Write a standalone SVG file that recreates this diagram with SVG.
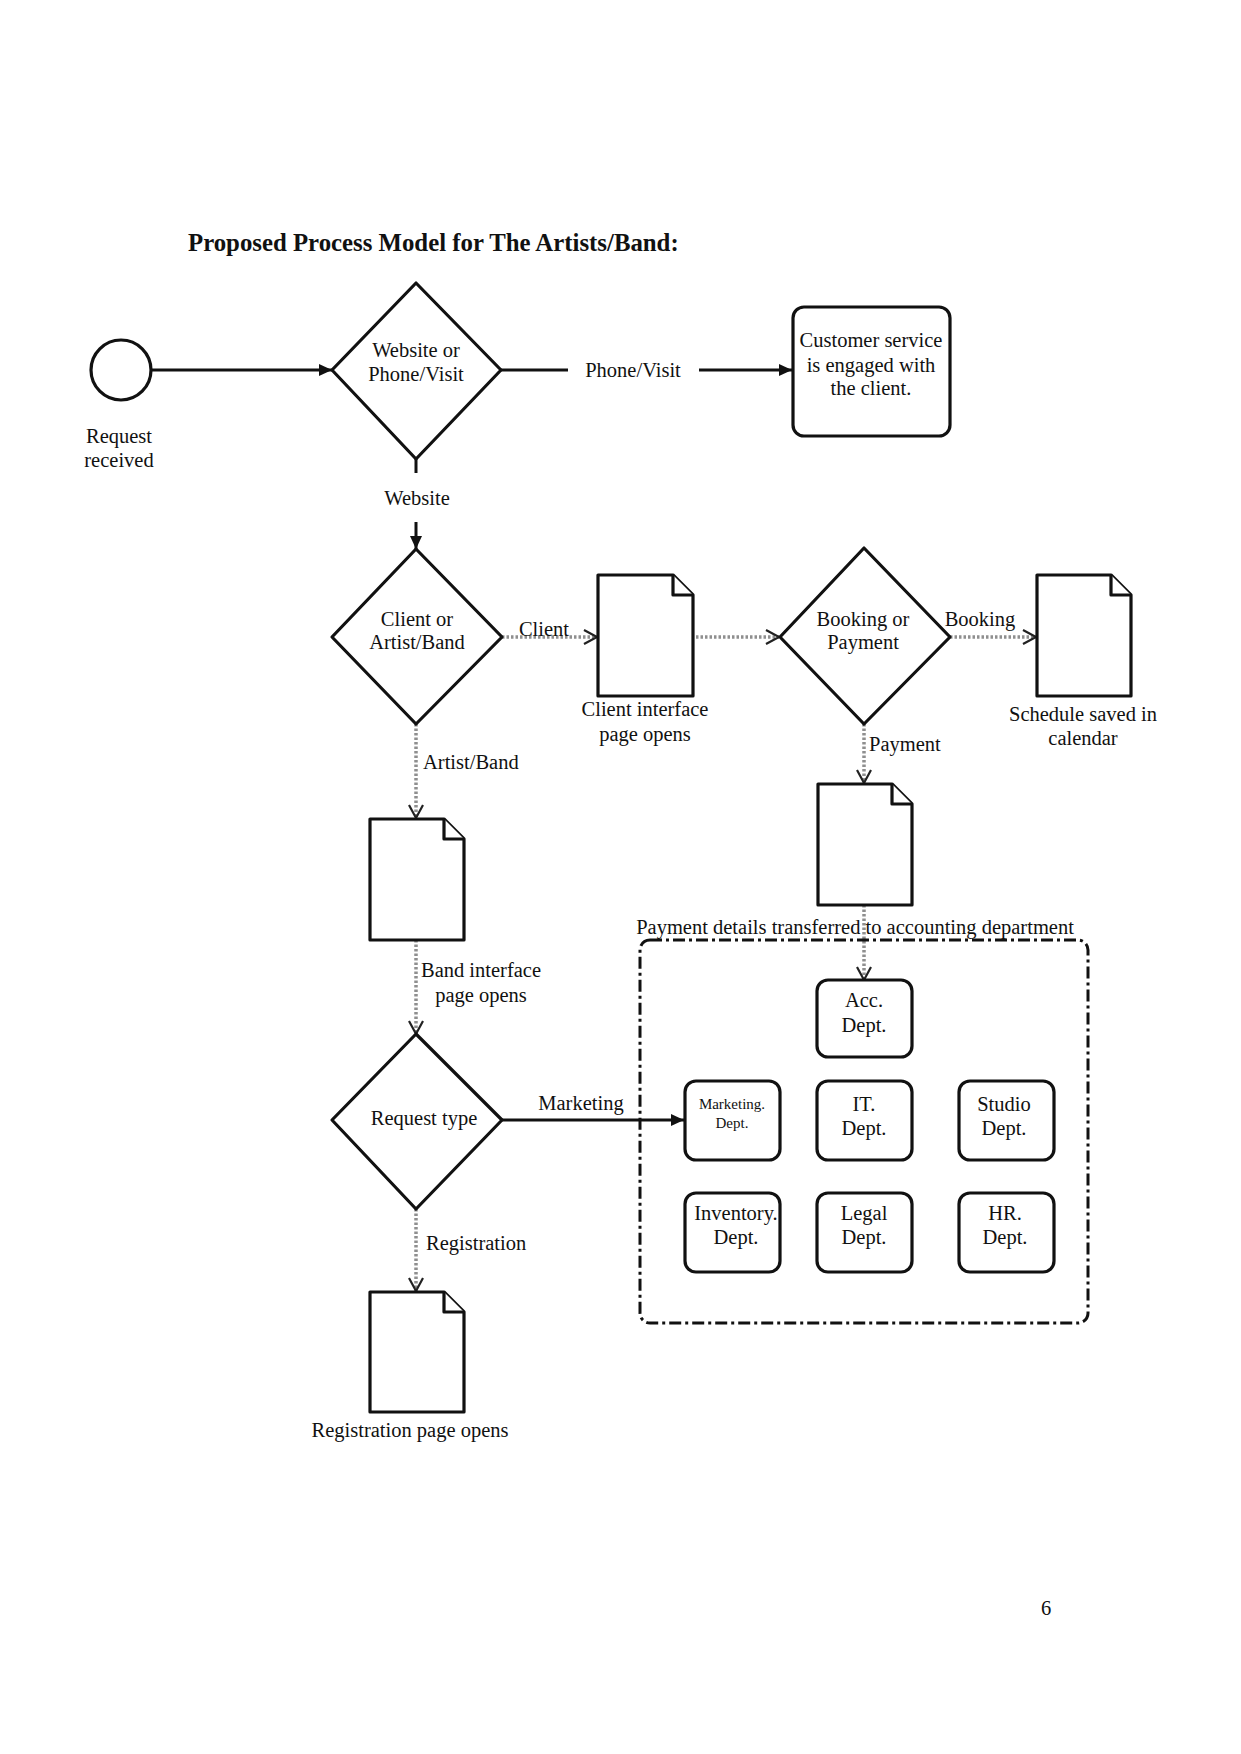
<svg xmlns="http://www.w3.org/2000/svg" width="1241" height="1754" viewBox="0 0 1241 1754">
<style>
text{font-family:"Liberation Serif","Times New Roman",serif;font-size:20.5px;fill:#111;text-anchor:middle}
.title{font-size:24.8px;font-weight:bold;text-anchor:start}
.lbl{text-anchor:start}
.sm{font-size:15px}
.shape{fill:#fff;stroke:#111;stroke-width:3.2;stroke-linejoin:round}
.solid{fill:none;stroke:#111;stroke-width:3}
.dot{fill:none;stroke:#8f8f8f;stroke-width:3.5;stroke-dasharray:2.5 2}
.group{fill:none;stroke:#111;stroke-width:3;stroke-dasharray:12 4 3 4}
</style>
<defs>
<marker id="fa" markerUnits="userSpaceOnUse" markerWidth="14" markerHeight="14" refX="13" refY="7" orient="auto"><path d="M0,1 L13,7 L0,13 z" fill="#111"/></marker>
<marker id="oa" markerUnits="userSpaceOnUse" markerWidth="18" markerHeight="18" refX="14" refY="9" orient="auto"><path d="M1,2 L14,9 L1,16" fill="none" stroke="#222" stroke-width="2.2"/></marker>
</defs>
<rect width="1241" height="1754" fill="#fff"/>
<text class="title" x="188" y="251">Proposed Process Model for The Artists/Band:</text>

<g id="connectors">
<line class="solid" x1="151" y1="370" x2="332" y2="370" marker-end="url(#fa)"/>
<line class="solid" x1="501" y1="370" x2="568" y2="370"/>
<line class="solid" x1="699" y1="370" x2="792" y2="370" marker-end="url(#fa)"/>
<line class="solid" x1="416" y1="459" x2="416" y2="473"/>
<line class="solid" x1="416" y1="522" x2="416" y2="549" marker-end="url(#fa)"/>
<line class="dot" x1="502" y1="637" x2="597" y2="637" marker-end="url(#oa)"/>
<line class="dot" x1="696" y1="637" x2="779" y2="637" marker-end="url(#oa)"/>
<line class="dot" x1="950" y1="637" x2="1036" y2="637" marker-end="url(#oa)"/>
<line class="dot" x1="864" y1="724" x2="864" y2="783" marker-end="url(#oa)"/>
<line class="dot" x1="864" y1="905" x2="864" y2="980" marker-end="url(#oa)"/>
<line class="dot" x1="416" y1="724" x2="416" y2="818" marker-end="url(#oa)"/>
<line class="dot" x1="416" y1="940" x2="416" y2="1034" marker-end="url(#oa)"/>
<line class="dot" x1="416" y1="1209" x2="416" y2="1291" marker-end="url(#oa)"/>
<line class="solid" x1="502" y1="1120" x2="684" y2="1120" marker-end="url(#fa)"/>
<text x="633" y="377">Phone/Visit</text>
<text x="417" y="505">Website</text>
<text x="544" y="636">Client</text>
<text x="980" y="626">Booking</text>
<text class="lbl" x="869" y="751">Payment</text>
<text class="lbl" x="423" y="769">Artist/Band</text>
<text x="481" y="977">Band interface</text>
<text x="481" y="1002">page opens</text>
<text x="581" y="1110">Marketing</text>
<text class="lbl" x="426" y="1250">Registration</text>
<text x="855" y="934">Payment details transferred to accounting department</text>
</g>

<g id="start">
<circle class="shape" cx="121" cy="370" r="30"/>
<text x="119" y="443">Request</text>
<text x="119" y="467">received</text>
</g>

<g id="d-website">
<path class="shape" d="M416,283 L501,370 L416,459 L332,370 Z"/>
<text x="416" y="357">Website or</text>
<text x="416" y="381">Phone/Visit</text>
</g>

<g id="customer-service">
<rect class="shape" x="793" y="307" width="157" height="129" rx="11"/>
<text x="871" y="347">Customer service</text>
<text x="871" y="372">is engaged with</text>
<text x="871" y="395">the client.</text>
</g>

<g id="d-client">
<path class="shape" d="M416,549 L502,637 L416,724 L332,637 Z"/>
<text x="417" y="626">Client or</text>
<text x="417" y="649">Artist/Band</text>
</g>

<g id="doc-client">
<path class="shape" d="M598,575 H673 L693,595 V696 H598 Z"/>
<path class="shape" d="M673,575 V595 H693"/>
<text x="645" y="716">Client interface</text>
<text x="645" y="741">page opens</text>
</g>

<g id="d-booking">
<path class="shape" d="M864,548 L950,637 L864,724 L780,637 Z"/>
<text x="863" y="626">Booking or</text>
<text x="863" y="649">Payment</text>
</g>

<g id="doc-schedule">
<path class="shape" d="M1037,575 H1111 L1131,595 V696 H1037 Z"/>
<path class="shape" d="M1111,575 V595 H1131"/>
<text x="1083" y="721">Schedule saved in</text>
<text x="1083" y="745">calendar</text>
</g>

<g id="doc-payment">
<path class="shape" d="M818,784 H892 L912,804 V905 H818 Z"/>
<path class="shape" d="M892,784 V804 H912"/>
</g>

<g id="doc-band">
<path class="shape" d="M370,819 H444 L464,839 V940 H370 Z"/>
<path class="shape" d="M444,819 V839 H464"/>
</g>

<g id="d-request">
<path class="shape" d="M416,1034 L502,1120 L416,1209 L332,1120 Z"/>
<text x="424" y="1125">Request type</text>
</g>

<g id="doc-registration">
<path class="shape" d="M370,1292 H444 L464,1312 V1412 H370 Z"/>
<path class="shape" d="M444,1292 V1312 H464"/>
<text x="410" y="1437">Registration page opens</text>
</g>

<g id="departments">
<rect class="group" x="640" y="940" width="448" height="383" rx="10"/>
</g>
<g id="acc"><rect class="shape" x="817" y="980" width="95" height="77" rx="11"/><text x="864" y="1007">Acc.</text><text x="864" y="1032">Dept.</text></g>
<g id="marketing"><rect class="shape" x="685" y="1081" width="95" height="79" rx="11"/><text class="sm" x="732" y="1109">Marketing.</text><text class="sm" x="732" y="1128">Dept.</text></g>
<g id="it"><rect class="shape" x="817" y="1081" width="95" height="79" rx="11"/><text x="864" y="1111">IT.</text><text x="864" y="1135">Dept.</text></g>
<g id="studio"><rect class="shape" x="959" y="1081" width="95" height="79" rx="11"/><text x="1004" y="1111">Studio</text><text x="1004" y="1135">Dept.</text></g>
<g id="inventory"><rect class="shape" x="685" y="1193" width="95" height="79" rx="11"/><text x="736" y="1220">Inventory.</text><text x="736" y="1244">Dept.</text></g>
<g id="legal"><rect class="shape" x="817" y="1193" width="95" height="79" rx="11"/><text x="864" y="1220">Legal</text><text x="864" y="1244">Dept.</text></g>
<g id="hr"><rect class="shape" x="959" y="1193" width="95" height="79" rx="11"/><text x="1005" y="1220">HR.</text><text x="1005" y="1244">Dept.</text></g>

<text x="1046" y="1615">6</text>
</svg>
